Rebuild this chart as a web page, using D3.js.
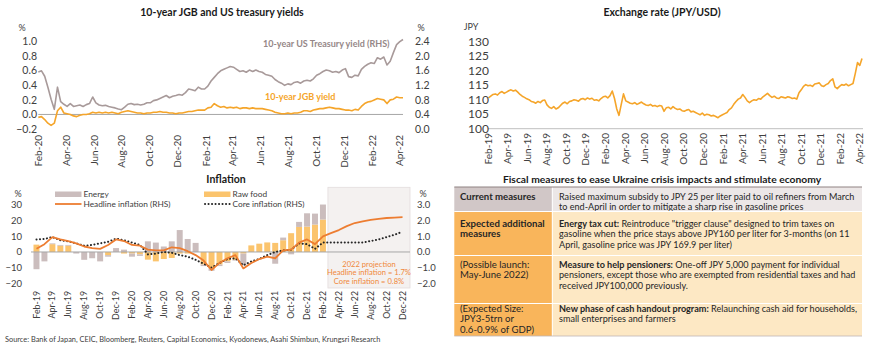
<!DOCTYPE html>
<html>
<head>
<meta charset="utf-8">
<script src="https://cdn.jsdelivr.net/npm/d3@7"></script>
<style>
  body { margin: 0; background: #fff; }
  svg  { display: block; font-family: Lato, "Open Sans", sans-serif; }
</style>
</head>
<body>
<svg id="board" width="870" height="347"></svg>
<script>
/* =============================================
   Japan dashboard — four panels on one board:
   JGB / UST yields, JPY/USD, inflation, fiscal table
   ============================================= */

// ---- Yields: weekly, starting 31 Jan 2020 ----
const yieldStart = new Date(2020, 0, 31);
// 10-year US Treasury yield, % (right axis)
const usYield = [
  1.57, 1.60, 1.45, 1.15, 0.82, 0.54, 1.15, 0.75, 0.68, 0.62,
  0.70, 0.62, 0.64, 0.66, 0.62, 0.67, 0.70, 0.88, 0.72, 0.66,
  0.64, 0.65, 0.62, 0.60, 0.58, 0.55, 0.53, 0.60, 0.68, 0.70,
  0.67, 0.68, 0.66, 0.68, 0.72, 0.72, 0.78, 0.80, 0.84, 0.88,
  0.92, 0.86, 0.90, 0.92, 0.95, 0.93, 1.00, 1.10, 1.08, 1.05,
  1.15, 1.10, 1.10, 1.18, 1.32, 1.42, 1.52, 1.60, 1.64, 1.68,
  1.72, 1.70, 1.64, 1.58, 1.60, 1.56, 1.62, 1.58, 1.62, 1.58,
  1.56, 1.50, 1.48, 1.45, 1.36, 1.30, 1.26, 1.20, 1.24, 1.22,
  1.28, 1.30, 1.26, 1.32, 1.34, 1.32, 1.38, 1.48, 1.52, 1.58,
  1.62, 1.60, 1.56, 1.58, 1.55, 1.62, 1.66, 1.44, 1.42, 1.48,
  1.46, 1.64, 1.72, 1.78, 1.82, 1.80, 1.96, 1.92, 1.98, 1.76,
  1.86, 2.10, 2.32, 2.40, 2.46
];
// 10-year JGB yield, % (left axis)
const jgbYield = [
  -0.04, -0.03, -0.07, -0.12, -0.15, -0.12, 0.05, 0.10, 0.02, 0.01,
  0.00, -0.02, -0.03, -0.01, 0.00, 0.00, 0.01, 0.03, 0.02, 0.03,
  0.02, 0.03, 0.02, 0.03, 0.02, 0.01, 0.03, 0.04, 0.05, 0.04,
  0.03, 0.02, 0.02, 0.01, 0.02, 0.02, 0.03, 0.03, 0.04, 0.03,
  0.03, 0.02, 0.02, 0.01, 0.02, 0.02, 0.03, 0.04, 0.04, 0.05,
  0.06, 0.06, 0.06, 0.09, 0.10, 0.15, 0.12, 0.10, 0.11, 0.09,
  0.10, 0.09, 0.10, 0.08, 0.09, 0.09, 0.08, 0.09, 0.08, 0.08,
  0.08, 0.07, 0.06, 0.05, 0.03, 0.02, 0.01, 0.01, 0.02, 0.01,
  0.02, 0.02, 0.03, 0.05, 0.05, 0.04, 0.06, 0.07, 0.08, 0.08,
  0.09, 0.10, 0.09, 0.08, 0.08, 0.07, 0.06, 0.06, 0.05, 0.07,
  0.06, 0.11, 0.15, 0.17, 0.18, 0.20, 0.22, 0.21, 0.20, 0.15,
  0.20, 0.21, 0.24, 0.23, 0.23
];
const yieldLeftTicks  = [-0.2, 0.0, 0.2, 0.4, 0.6, 0.8, 1.0];
const yieldRightTicks = [0.0, 0.4, 0.8, 1.2, 1.6, 2.0, 2.4];

// ---- Exchange rate: weekly JPY per USD, starting 1 Feb 2019 ----
const fxStart = new Date(2019, 1, 1);
const usdJpy = [
  110.6, 111.2, 111.8, 112.0, 111.6, 112.4, 112.8, 112.2,
  112.6, 113.1, 113.4, 113.0, 113.3, 112.6,
  111.8, 111.2, 110.8, 110.3, 110.0,
  109.4, 109.2, 108.8, 109.4, 109.0, 109.7, 109.9,
  108.2, 107.4, 107.0, 107.6, 106.8,
  107.2, 108.0, 108.8, 109.2, 108.6,
  109.4, 109.6, 110.0, 109.8, 109.5, 110.2,
  110.4, 110.0, 110.6, 110.2, 110.5, 109.8,
  110.0, 109.6, 110.4, 111.0, 111.2, 110.6, 111.4,
  113.0, 110.4, 106.8, 104.6, 108.4, 112.0, 109.6,
  109.2, 108.8, 108.6, 109.0, 108.4, 108.8, 109.2,
  108.6, 108.2, 108.0, 108.4, 107.8, 108.0, 107.6, 108.0, 107.8,
  106.0, 107.2, 107.4, 106.8, 107.6, 107.0,
  106.6, 106.8, 106.2, 106.0, 106.4, 106.6, 105.8, 106.0, 105.6,
  105.2, 104.8, 105.4, 104.6, 105.0, 104.8,
  104.4, 104.6, 104.2, 103.8, 104.4, 104.8, 105.2,
  105.6, 106.6, 107.2, 108.4, 109.4, 110.2, 110.6,
  111.8, 110.8, 109.6, 109.0, 109.6,
  110.0, 109.8, 110.4, 110.2, 111.0, 111.6,
  112.2, 111.4, 110.8, 111.2, 110.6, 110.4, 111.0,
  110.8, 110.6, 111.0, 110.8, 110.4, 110.6, 110.2,
  112.4, 113.4, 114.6, 115.2,
  114.8, 115.0, 114.6, 115.4, 115.6, 115.8, 114.8,
  114.6, 115.2, 115.6, 116.6, 117.2,
  114.4, 113.8, 114.6, 115.2, 115.0, 115.4, 114.8,
  115.2, 115.6, 119.0, 122.8, 121.8, 124.2
];
const fxTicks = [100, 105, 110, 115, 120, 125, 130];

// ---- Inflation: monthly, Feb-19 to Dec-22 ----
const inflMonths = d3.timeMonth.range(new Date(2019, 1, 1), new Date(2023, 0, 1));
// contributions, % y/y (left axis) — actuals to Feb-22
const energy = [
  -11, -6, 0.5, 0.5, 0.5, -1, -5, -4, -6, -1, 2.5, 1.5,
  -2, -1, 6.8, 6, 3.5, 6.8, 14, 8.3, 5.8, -1, -1.5, -1,
  -1, -0.5, -7.5, 0, 0, 0, -7.5, 1.7, -1.5, 3.2, 8.5, 7, 9.6
];
const rawFood = [
  4.7, 0, 5, 4, 4, 0, 0, 0, 0, -2, 0, -1,
  -1, -1.5, -4.9, -6, -4.5, -3.8, -1, -1, 0, -8, -10.5, -8,
  -6, -5, -1, 4.2, 5.3, 6.1, 5.8, 7.5, 12, 16, 16.2, 17.5, 20.7
];
// headline and core CPI, % y/y (right axis) — Mar-22 onward is projection
const headline = [
  0.2, 0.5, 0.95, 0.8, 0.7, 0.55, 0.35, 0.25, 0.2, 0.45, 0.8, 0.7,
  0.45, 0.4, 0.15, 0.1, 0.1, 0.3, 0.25, 0.05, -0.2, -0.55, -1.15, -0.7,
  -0.4, -0.2, -1.05, -0.7, -0.45, -0.3, -0.4, 0.1, 0.15, 0.6, 0.8, 0.5,
  1.0, 1.2, 1.4, 1.65, 1.85, 1.95, 2.05, 2.12, 2.17, 2.2, 2.22
];
const core = [
  0.8, 0.83, 0.95, 0.75, 0.68, 0.55, 0.4, 0.45, 0.55, 0.65, 0.85, 0.75,
  0.6, 0.45, -0.15, -0.1, 0.0, -0.05, -0.2, -0.3, -0.5, -0.75, -1.0, -0.7,
  -0.45, -0.4, -0.85, -0.6, -0.45, -0.2, 0.0, 0.1, 0.15, 0.55, 0.5, 0.2,
  0.6, 0.6, 0.6, 0.6, 0.6, 0.6, 0.7, 0.8, 0.95, 1.1, 1.3
];
const inflLeftTicks  = [-20, -10, 0, 10, 20, 30];
const inflRightTicks = [-2, -1, 0, 1, 2, 3];
const projectionFrom = new Date(2022, 2, 1);
const projectionNote = ["2022 projection", "Headline inflation = 1.7%", "Core inflation = 0.8%"];

// ---- Fiscal measures table: each line is a list of [text, bold] runs ----
const tableLeft = [
  ["Current measures"],
  ["Expected additional", "measures"],
  ["(Possible launch:", "May-June 2022)"],
  ["(Expected Size:", "JPY3-5trn or", "0.6-0.9% of GDP)"]
];
const tableBoldLeft = [true, true, false, false];
const tableRight = [
  [[["Raised maximum subsidy to JPY 25 per liter paid to oil refiners from March", false]],
   [["to end-April in order to mitigate a sharp rise in gasoline prices", false]]],
  [[["Energy tax cut:", true], [" Reintroduce \"trigger clause\" designed to trim taxes on", false]],
   [["gasoline when the price stays above JPY160 per liter for 3-months (on 11", false]],
   [["April, gasoline price was JPY 169.9 per liter)", false]]],
  [[["Measure to help pensioners:", true], [" One-off JPY 5,000 payment for individual", false]],
   [["pensioners, except those who are exempted from residential taxes and had", false]],
   [["received JPY100,000 previously.", false]]],
  [[["New phase of cash handout program:", true], [" Relaunching cash aid for households,", false]],
   [["small enterprises and farmers", false]]]
];

const sourceNote = "Source: Bank of Japan, CEIC, Bloomberg, Reuters, Capital Economics, Kyodonews, Asahi Shimbun, Krungsri Research";

// ---- Shared styling ----
const INK      = "#404040";
const AXIS     = "#a6a6a6";
const ORANGE   = "#f5a52a";
const UST_GREY = "#a89a9a";
const fmtMon   = d3.timeFormat("%b-%y");
const evenMonths = (a, b) => d3.timeMonth.range(a, b).filter(d => d.getMonth() % 2 === 1);

const svg = d3.select("#board");

function title(x, y, text, size) {
  svg.append("text")
    .attr("x", x).attr("y", y)
    .attr("text-anchor", "middle")
    .attr("font-size", size).attr("font-weight", 700)
    .attr("fill", "#1a1a1a")
    .text(text);
}

// Rotated month labels hanging under an axis
function monthLabels(dates, xFn, yTop, size) {
  svg.append("g").selectAll("text")
    .data(dates)
    .join("text")
    .attr("transform", d => `translate(${xFn(d)},${yTop}) rotate(-90)`)
    .attr("text-anchor", "end")
    .attr("dy", "0.35em")
    .attr("font-size", size)
    .attr("fill", INK)
    .text(fmtMon);
}

function tickLabels(ticks, x, yScale, anchor, size, fmt) {
  svg.append("g").selectAll("text")
    .data(ticks)
    .join("text")
    .attr("x", x).attr("y", d => yScale(d))
    .attr("dy", "0.35em")
    .attr("text-anchor", anchor)
    .attr("font-size", size)
    .attr("fill", INK)
    .text(fmt);
}

/* =============================================
   Panel 1 — 10-year JGB and US treasury yields
   ============================================= */
{
  const dates = usYield.map((_, i) => d3.timeDay.offset(yieldStart, 7 * i));
  const x  = d3.scaleTime().domain([yieldStart, dates[dates.length - 1]]).range([38.3, 403]);
  const yL = d3.scaleLinear().domain([-0.2, 1.0]).range([129, 41.7]);
  const yR = d3.scaleLinear().domain([0, 2.4]).range([129, 41.7]);

  title(222, 16, "10-year JGB and US treasury yields", 10.5);

  svg.append("line")
    .attr("x1", x.range()[0]).attr("x2", x.range()[1])
    .attr("y1", yL(0)).attr("y2", yL(0))
    .attr("stroke", AXIS).attr("stroke-width", 1);

  svg.append("path")
    .datum(usYield)
    .attr("fill", "none").attr("stroke", UST_GREY).attr("stroke-width", 1.6)
    .attr("stroke-linejoin", "round")
    .attr("d", d3.line().x((d, i) => x(dates[i])).y(d => yR(d)));

  svg.append("path")
    .datum(jgbYield)
    .attr("fill", "none").attr("stroke", ORANGE).attr("stroke-width", 1.6)
    .attr("stroke-linejoin", "round")
    .attr("d", d3.line().x((d, i) => x(dates[i])).y(d => yL(d)));

  tickLabels(yieldLeftTicks, 37, yL, "end", 10.5, d3.format(".1f"));
  tickLabels(yieldRightTicks, 415, yR, "start", 10.5, d3.format(".1f"));
  svg.append("text").attr("x", 22).attr("y", 31).attr("text-anchor", "middle")
    .attr("font-size", 9).attr("fill", INK).text("%");
  svg.append("text").attr("x", 421).attr("y", 31).attr("text-anchor", "middle")
    .attr("font-size", 9).attr("fill", INK).text("%");

  monthLabels(evenMonths(new Date(2020, 1, 1), new Date(2022, 3, 2)), x, 135, 10);

  // inline series names
  svg.append("text").attr("x", 263).attr("y", 46.5)
    .attr("font-size", 9).attr("font-weight", 700).attr("fill", "#958787")
    .text("10-year US Treasury yield (RHS)");
  svg.append("text").attr("x", 265).attr("y", 100)
    .attr("font-size", 9).attr("font-weight", 700).attr("fill", ORANGE)
    .text("10-year JGB yield");
}

/* =============================================
   Panel 2 — Exchange rate (JPY/USD)
   ============================================= */
{
  const dates = usdJpy.map((_, i) => d3.timeDay.offset(fxStart, 7 * i));
  const x = d3.scaleTime().domain([fxStart, dates[dates.length - 1]]).range([488.5, 862]);
  const y = d3.scaleLinear().domain([100, 130]).range([128.7, 41.7]);

  title(662, 16, "Exchange rate (JPY/USD)", 10.5);

  svg.append("line")
    .attr("x1", 488).attr("x2", 863)
    .attr("y1", y(100)).attr("y2", y(100))
    .attr("stroke", "#bfbfbf").attr("stroke-width", 1);

  svg.append("path")
    .datum(usdJpy)
    .attr("fill", "none").attr("stroke", ORANGE).attr("stroke-width", 1.6)
    .attr("stroke-linejoin", "round")
    .attr("d", d3.line().x((d, i) => x(dates[i])).y(d => y(d)));

  tickLabels(fxTicks, 489, y, "end", 12, d3.format("d"));
  svg.append("text").attr("x", 471).attr("y", 30).attr("text-anchor", "middle")
    .attr("font-size", 9).attr("fill", INK).text("JPY");

  monthLabels(evenMonths(new Date(2019, 1, 1), new Date(2022, 3, 2)), x, 133, 10);
}

/* =============================================
   Panel 3 — Inflation (stacked contributions + CPI lines)
   ============================================= */
{
  const x  = d3.scaleBand().domain(inflMonths).range([31.5, 407.5]).padding(0.25);
  const yL = d3.scaleLinear().domain([-20, 30]).range([283.3, 205]);
  const yR = d3.scaleLinear().domain([-2, 3]).range([283.3, 205]);
  const cx = d => x(d) + x.bandwidth() / 2;

  title(226, 183, "Inflation", 10.5);

  // shaded projection window
  const px0 = x(projectionFrom) - x.step() * x.paddingInner() / 2 + 1;
  svg.append("rect")
    .attr("x", px0).attr("y", 187.3)
    .attr("width", 410 - px0).attr("height", 100.7)
    .attr("fill", "#f4f1f0").attr("stroke", "#e3dddd").attr("stroke-width", 0.8);

  const rows = energy.map((e, i) => ({ month: inflMonths[i], raw: rawFood[i], energy: e }));
  const stack = d3.stack().keys(["raw", "energy"]).offset(d3.stackOffsetDiverging)(rows);
  const barColor = { raw: "#fbc46d", energy: "#cbbdbd" };

  svg.append("g").selectAll("g")
    .data(stack)
    .join("g")
    .attr("fill", s => barColor[s.key])
    .selectAll("rect")
    .data(s => s)
    .join("rect")
    .attr("x", d => x(d.data.month))
    .attr("width", x.bandwidth())
    .attr("y", d => yL(Math.max(d[0], d[1])))
    .attr("height", d => Math.abs(yL(d[0]) - yL(d[1])));

  svg.append("line")
    .attr("x1", 31).attr("x2", 410)
    .attr("y1", yL(0)).attr("y2", yL(0))
    .attr("stroke", AXIS).attr("stroke-width", 1);

  svg.append("path")
    .datum(core)
    .attr("fill", "none").attr("stroke", "#262626").attr("stroke-width", 2)
    .attr("stroke-dasharray", "0.1,3.4").attr("stroke-linecap", "round")
    .attr("d", d3.line().x((d, i) => cx(inflMonths[i])).y(d => yR(d)));

  svg.append("path")
    .datum(headline)
    .attr("fill", "none").attr("stroke", "#ed7d31").attr("stroke-width", 1.8)
    .attr("stroke-linejoin", "round")
    .attr("d", d3.line().x((d, i) => cx(inflMonths[i])).y(d => yR(d)));

  tickLabels(inflLeftTicks, 22, yL, "end", 9.5, d3.format("d"));
  tickLabels(inflRightTicks, 417, yR, "start", 9.5, d3.format(".1f"));
  svg.append("text").attr("x", 18).attr("y", 197).attr("text-anchor", "middle")
    .attr("font-size", 9).attr("fill", INK).text("%");
  svg.append("text").attr("x", 423).attr("y", 197).attr("text-anchor", "middle")
    .attr("font-size", 9).attr("fill", INK).text("%");

  monthLabels(inflMonths.filter(d => d.getMonth() % 2 === 1), cx, 291, 8.8);

  // projection note
  svg.append("g").selectAll("text")
    .data(projectionNote)
    .join("text")
    .attr("x", 369).attr("y", (d, i) => 267 + i * 8.4)
    .attr("text-anchor", "middle")
    .attr("font-size", 7.6).attr("fill", "#f0883a")
    .text(d => d);

  // legend
  const lg = svg.append("g").attr("font-size", 8.3).attr("fill", INK);
  lg.append("rect").attr("x", 55).attr("y", 191.5).attr("width", 26.5).attr("height", 5.5).attr("fill", barColor.energy);
  lg.append("text").attr("x", 83.5).attr("y", 197).text("Energy");
  lg.append("line").attr("x1", 55).attr("x2", 81.5).attr("y1", 204).attr("y2", 204)
    .attr("stroke", "#ed7d31").attr("stroke-width", 1.8);
  lg.append("text").attr("x", 83.5).attr("y", 207).text("Headline inflation (RHS)");
  lg.append("rect").attr("x", 204).attr("y", 191.5).attr("width", 26.5).attr("height", 5.5).attr("fill", barColor.raw);
  lg.append("text").attr("x", 232.5).attr("y", 197).text("Raw food");
  lg.append("line").attr("x1", 205).attr("x2", 230).attr("y1", 204).attr("y2", 204)
    .attr("stroke", "#262626").attr("stroke-width", 2)
    .attr("stroke-dasharray", "0.1,3.4").attr("stroke-linecap", "round");
  lg.append("text").attr("x", 232.5).attr("y", 207).text("Core inflation (RHS)");
}

/* =============================================
   Panel 4 — Fiscal measures table
   ============================================= */
{
  title(662, 183, "Fiscal measures to ease Ukraine crisis impacts and stimulate economy", 10.3);

  const x0 = 454.3, xMid = 552.3, x1 = 862;
  const rowEdges = [187, 211.5, 255.5, 303.5, 336];
  const firstBase = [199.5, 226.7, 268, 312];
  const lineStep = 10.4;
  const leftFont = 9.6;
  const fills = [["#d1c7c7", "#ece7e7"], ["#f9b55b", "#fde8c4"], ["#f9b55b", "#fde8c4"], ["#f9b55b", "#fde8c4"]];

  const t = svg.append("g");

  // size the description column so its first line spans ~296px
  const probe = t.append("text").attr("font-size", 10).text(tableRight[0][0][0][0]);
  const rightFont = 10 * 296 / probe.node().getComputedTextLength();
  probe.remove();

  tableLeft.forEach((lines, r) => {
    const y0 = rowEdges[r], h = rowEdges[r + 1] - y0;
    t.append("rect").attr("x", x0).attr("y", y0).attr("width", xMid - x0).attr("height", h).attr("fill", fills[r][0]);
    t.append("rect").attr("x", xMid).attr("y", y0).attr("width", x1 - xMid).attr("height", h).attr("fill", fills[r][1]);

    lines.forEach((ln, k) => {
      t.append("text")
        .attr("x", 460).attr("y", firstBase[r] + k * lineStep)
        .attr("font-size", leftFont).attr("font-weight", tableBoldLeft[r] ? 700 : 400)
        .attr("fill", "#262626")
        .text(ln);
    });

    tableRight[r].forEach((runs, k) => {
      const txt = t.append("text")
        .attr("x", 559).attr("y", firstBase[r] + k * lineStep)
        .attr("font-size", rightFont).attr("fill", "#262626")
        .attr("xml:space", "preserve");
      runs.forEach(([s, b]) => txt.append("tspan").attr("font-weight", b ? 700 : 400).text(s));
    });
  });

  // row separators, column divider and outer rules
  rowEdges.slice(1, -1).forEach(y =>
    t.append("line").attr("x1", x0).attr("x2", x1).attr("y1", y).attr("y2", y)
      .attr("stroke", "#fff").attr("stroke-width", 1));
  t.append("line").attr("x1", xMid).attr("x2", xMid).attr("y1", rowEdges[0]).attr("y2", rowEdges[4])
    .attr("stroke", "#fff").attr("stroke-width", 1);
  t.append("line").attr("x1", x0).attr("x2", x1).attr("y1", rowEdges[0]).attr("y2", rowEdges[0])
    .attr("stroke", "#8f8282").attr("stroke-width", 1);
  t.append("line").attr("x1", x0).attr("x2", x1).attr("y1", rowEdges[4]).attr("y2", rowEdges[4])
    .attr("stroke", "#bfb5b5").attr("stroke-width", 0.8);
}

// ---- Source line ----
svg.append("text")
  .attr("x", 5).attr("y", 342)
  .attr("font-size", 7.4).attr("fill", INK)
  .text(sourceNote);
</script>
</body>
</html>
